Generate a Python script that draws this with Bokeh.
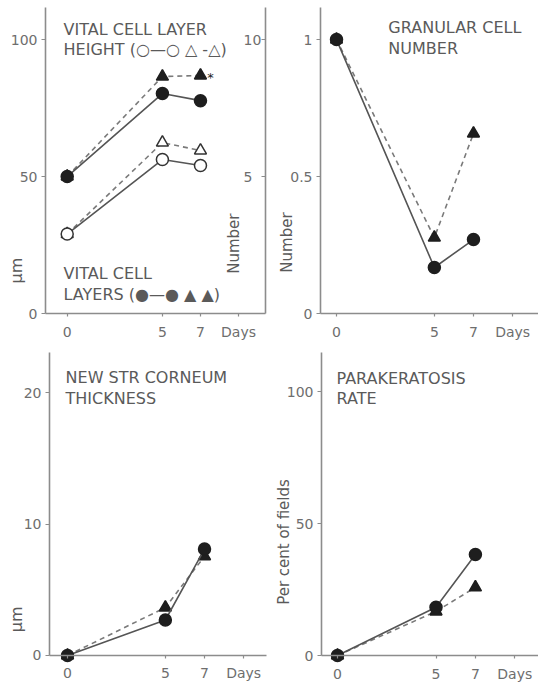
from bokeh.plotting import figure
from bokeh.models import LinearAxis, Range1d, FixedTicker, Label
from bokeh.layouts import column, row
from bokeh.embed import file_html
from bokeh.resources import INLINE
from bokeh.core.properties import value

# ---------------- data ----------------
DAYS = [0, 5, 7]
X_TICKS = [0, 5, 7, 9]
X_TICK_OVERRIDES = {9: "Days"}

# Vital cell layer height (um, left axis)
height_ctrl = [29.0, 56.2, 54.0]      # open circles, solid
height_treat = [29.0, 62.4, 59.5]     # open triangles, dashed
# Vital cell layers (number, right axis)
layers_ctrl = [5.0, 8.03, 7.77]       # filled circles, solid
layers_treat = [5.0, 8.65, 8.69]      # filled triangles, dashed
# Granular cell number
granular_ctrl = [1.0, 0.168, 0.27]
granular_treat = [1.0, 0.277, 0.657]
# New stratum corneum thickness (um)
corneum_ctrl = [0.0, 2.7, 8.1]
corneum_treat = [0.0, 3.65, 7.55]
# Parakeratosis rate (per cent of fields)
para_ctrl = [0.0, 18.3, 38.3]
para_treat = [0.0, 16.7, 25.8]

P1_YTICKS = [0, 50, 100]
P1_RTICKS = [5, 10]
P2_YTICKS = [0, 0.5, 1]
P2_YLABELS = {0: "0", 0.5: "0.5", 1: "1"}
P3_YTICKS = [0, 10, 20]
P4_YTICKS = [0, 50, 100]

FONT = "DejaVu Sans"
AXIS_COL = "#8c8c8c"
TICK_TXT = "#6e6e6e"
TXT = "#5a5a5a"
LINE_SOLID = "#555555"
LINE_DASH = "#7a7a7a"
MARK = "#1e1e1e"


def style_axis(ax):
    ax.axis_line_color = AXIS_COL
    ax.axis_line_width = 1.6
    ax.major_tick_line_color = AXIS_COL
    ax.major_tick_line_width = 1.2
    ax.major_tick_out = 4
    ax.major_tick_in = 0
    ax.minor_tick_out = 0
    ax.minor_tick_in = 0
    ax.major_label_text_font = FONT
    ax.major_label_text_font_size = "14px"
    ax.major_label_text_color = TICK_TXT


def make_fig(w, h, xr, yr, yaxis_x, xaxis_end, ytop, yticks, ylabels=None):
    p = figure(width=w, height=h, x_range=Range1d(*xr), y_range=Range1d(*yr),
               output_backend="svg", toolbar_location=None,
               min_border_left=0, min_border_right=0,
               min_border_top=0, min_border_bottom=0)
    p.grid.visible = False
    p.outline_line_color = None
    p.background_fill_color = "white"
    p.border_fill_color = "white"
    for ax in p.axis:
        style_axis(ax)
    p.xaxis.ticker = FixedTicker(ticks=X_TICKS)
    p.xaxis.major_label_overrides = X_TICK_OVERRIDES
    p.xaxis.major_tick_out = 3
    p.xaxis.major_label_standoff = 7
    p.xaxis.bounds = (yaxis_x, xaxis_end)
    p.xaxis.fixed_location = 0
    p.yaxis.ticker = FixedTicker(ticks=yticks)
    p.yaxis.major_label_standoff = 4
    p.yaxis.fixed_location = yaxis_x
    p.yaxis.bounds = (0, ytop)
    if ylabels:
        p.yaxis.major_label_overrides = ylabels
    return p


def series(p, ys, kind, filled, y_range_name="default", size=12):
    dashed = kind == "triangle"
    p.line(DAYS, ys, line_color=LINE_DASH if dashed else LINE_SOLID,
           line_width=1.6, line_dash="5 4" if dashed else "solid",
           y_range_name=y_range_name)
    p.scatter(DAYS, ys, marker=kind, size=size,
              fill_color=MARK if filled else "white",
              line_color=MARK if filled else "#333333", line_width=1.5,
              y_range_name=y_range_name)


def add_label(p, x, y, text, size="16px", angle=0, align="left", baseline="top",
              y_range_name="default"):
    p.add_layout(Label(x=x, y=y, text=text, text_font=FONT, text_font_size=size,
                       text_color=TXT, angle=angle, angle_units="deg",
                       text_align=align, text_baseline=baseline,
                       text_line_height=1.1, y_range_name=y_range_name))


# ---------------- panel 1: vital cell layer height / layers ----------------
P1_YAXIS_X, P1_RAXIS_X = -1.139, 10.415
p1 = make_fig(268, 344, (-3.503, 10.572), (-11.316, 114.26), P1_YAXIS_X, P1_RAXIS_X, 111.7, P1_YTICKS)
p1.extra_y_ranges = {"num": Range1d(-1.1316, 11.426)}
rax = LinearAxis(y_range_name="num", ticker=FixedTicker(ticks=P1_RTICKS))
style_axis(rax)
rax.major_tick_out = 0
rax.major_tick_in = 4
rax.major_label_standoff = -22
rax.fixed_location = P1_RAXIS_X
rax.bounds = (0, 11.17)
p1.add_layout(rax, "right")

series(p1, layers_treat, "triangle", True, "num")
series(p1, height_treat, "triangle", False)
series(p1, layers_ctrl, "circle", True, "num")
series(p1, height_ctrl, "circle", False)
p1.text(x=[DAYS[-1]], y=[layers_treat[-1]], text=["*"], x_offset=10, y_offset=2,
        text_font=value(FONT), text_font_size=value("13px"), text_color=MARK,
        text_align="center", text_baseline="middle", y_range_name="num")

add_label(p1, -0.19, 107.3, "VITAL CELL LAYER\nHEIGHT (○—○ △ -△)")
add_label(p1, -0.19, 17.9, "VITAL CELL\nLAYERS (●—● ▲ ▲)")
add_label(p1, -2.663, 15.7, "μm", size="16px", angle=90, align="center", baseline="middle")
add_label(p1, 8.74, 25.5, "Number", size="15px", angle=90, align="center", baseline="middle")

# ---------------- panel 2: granular cell number ----------------
P2_YAXIS_X = -0.818
p2 = make_fig(270, 344, (-3.475, 10.322), (-0.11316, 1.1426), P2_YAXIS_X, 10.322, 1.117,
              P2_YTICKS, P2_YLABELS)
series(p2, granular_treat, "triangle", True)
series(p2, granular_ctrl, "circle", True)
add_label(p2, 2.65, 1.080, "GRANULAR CELL\nNUMBER")
add_label(p2, -2.555, 0.259, "Number", size="15px", angle=90, align="center", baseline="middle")

# ---------------- panel 3: new stratum corneum thickness ----------------
P3_YAXIS_X = -0.92
p3 = make_fig(268, 346, (-3.424, 10.27), (-2.663, 23.66), P3_YAXIS_X, 10.17, 23.05, P3_YTICKS)
series(p3, corneum_treat, "triangle", True)
series(p3, corneum_ctrl, "circle", True)
add_label(p3, -0.10, 21.9, "NEW STR CORNEUM\nTHICKNESS")
add_label(p3, -2.606, 2.75, "μm", size="16px", angle=90, align="center", baseline="middle")

# ---------------- panel 4: parakeratosis rate ----------------
P4_YAXIS_X = -0.812
p4 = make_fig(270, 346, (-3.503, 10.203), (-13.26, 117.83), P4_YAXIS_X, 10.203, 114.8, P4_YTICKS)
series(p4, para_treat, "triangle", True)
series(p4, para_ctrl, "circle", True)
add_label(p4, -0.05, 108.7, "PARAKERATOSIS\nRATE")
add_label(p4, -2.741, 43.0, "Per cent of fields", size="15px", angle=90, align="center", baseline="middle")

layout = column(row(p1, p2), row(p3, p4))
open("out.html", "w").write(file_html(layout, INLINE))
